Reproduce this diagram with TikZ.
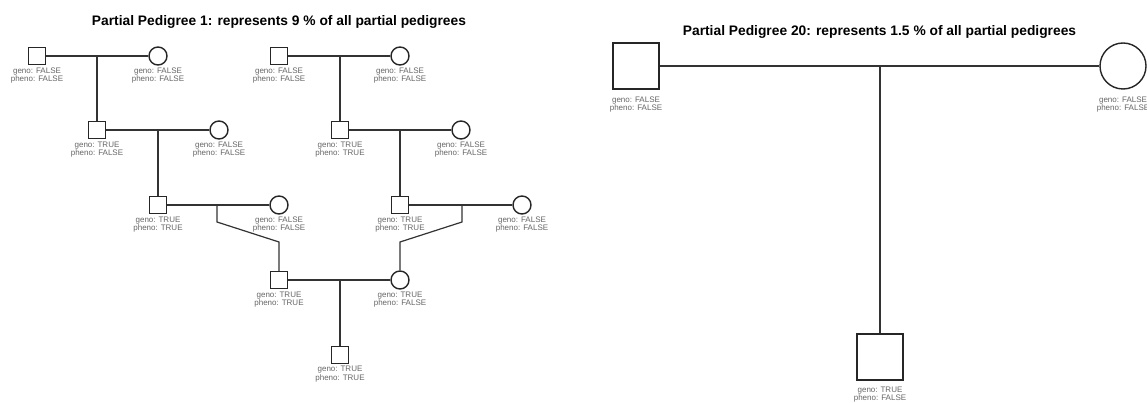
\documentclass[tikz,border=0pt]{standalone}
\usepackage{fontspec}
\setmainfont{Liberation Sans}
\begin{document}
\begin{tikzpicture}[x=1pt,y=-1pt,
  sq/.style={draw=black!85, line width=1.4pt, rectangle, minimum size=17pt, inner sep=0pt},
  ci/.style={draw=black!85, line width=1.4pt, circle, minimum size=18pt, inner sep=0pt},
  bsq/.style={draw=black!85, line width=1.4pt, rectangle, minimum size=46pt, inner sep=0pt},
  bci/.style={draw=black!85, line width=1.4pt, circle, minimum size=46pt, inner sep=0pt},
  lbl/.style={font=\fontsize{8}{8.3}\selectfont, text=black!60, align=center, inner sep=0pt},
  ttl/.style={font=\bfseries\fontsize{13.8}{15}\selectfont, text=black, inner sep=0pt},
  ln/.style={draw=black!80, line width=1.2pt}]
\useasboundingbox (0,0) rectangle (1147,403);
\fill[white] (0,0) rectangle (1147,403);

% ---------- left pedigree ----------
\node[ttl] (t1) at (279,22) {Partial Pedigree 1: represents 9 \% of all partial pedigrees};

% row 1
\node[sq] (s1) at (37,56) {};
\node[ci] (c1) at (158,56) {};
\node[sq] (s2) at (279,56) {};
\node[ci] (c2) at (400,56) {};
% row 2
\node[sq] (s3) at (97,130) {};
\node[ci] (c3) at (219,130) {};
\node[sq] (s4) at (340,130) {};
\node[ci] (c4) at (461,130) {};
% row 3
\node[sq] (s5) at (158,205) {};
\node[ci] (c5) at (279,205) {};
\node[sq] (s6) at (400,205) {};
\node[ci] (c6) at (522,205) {};
% row 4
\node[sq] (s7) at (279,280) {};
\node[ci] (c7) at (400,280) {};
% row 5
\node[sq] (s8) at (340,355) {};

% labels
\node[lbl] (ls1) at (37,75.5) {geno: FALSE\\pheno: FALSE};
\node[lbl] (lc1) at (158,75.5) {geno: FALSE\\pheno: FALSE};
\node[lbl] (ls2) at (279,75.5) {geno: FALSE\\pheno: FALSE};
\node[lbl] (lc2) at (400,75.5) {geno: FALSE\\pheno: FALSE};
\node[lbl] (ls3) at (97,149.5) {geno: TRUE\\pheno: FALSE};
\node[lbl] (lc3) at (219,149.5) {geno: FALSE\\pheno: FALSE};
\node[lbl] (ls4) at (340,149.5) {geno: TRUE\\pheno: TRUE};
\node[lbl] (lc4) at (461,149.5) {geno: FALSE\\pheno: FALSE};
\node[lbl] (ls5) at (158,224.5) {geno: TRUE\\pheno: TRUE};
\node[lbl] (lc5) at (279,224.5) {geno: FALSE\\pheno: FALSE};
\node[lbl] (ls6) at (400,224.5) {geno: TRUE\\pheno: TRUE};
\node[lbl] (lc6) at (522,224.5) {geno: FALSE\\pheno: FALSE};
\node[lbl] (ls7) at (279,299.5) {geno: TRUE\\pheno: TRUE};
\node[lbl] (lc7) at (400,299.5) {geno: TRUE\\pheno: FALSE};
\node[lbl] (ls8) at (340,374) {geno: TRUE\\pheno: TRUE};

% connectors
\coordinate (m1) at (97,56);
\coordinate (m2) at (340,56);
\coordinate (m3) at (158,130);
\coordinate (m4) at (400,130);
\coordinate (m5) at (217,205);
\coordinate (k5) at (217,222);
\coordinate (d5) at (279,242);
\coordinate (m6) at (462,205);
\coordinate (k6) at (462,222);
\coordinate (d6) at (400,242);
\coordinate (m7) at (340,280);

\draw[ln] (s1) -- (c1);
\draw[ln] (s2) -- (c2);
\draw[ln] (s3) -- (c3);
\draw[ln] (s4) -- (c4);
\draw[ln] (s5) -- (c5);
\draw[ln] (s6) -- (c6);
\draw[ln] (s7) -- (c7);
\draw[ln] (m1) -- (s3);
\draw[ln] (m2) -- (s4);
\draw[ln] (m3) -- (s5);
\draw[ln] (m4) -- (s6);
\draw[ln] (m5) -- (k5) -- (d5) -- (s7);
\draw[ln] (m6) -- (k6) -- (d6) -- (c7);
\draw[ln] (m7) -- (s8);

% ---------- right pedigree ----------
\node[ttl] (t2) at (879.5,32) {Partial Pedigree 20: represents 1.5 \% of all partial pedigrees};

\node[bsq] (r1) at (636,66) {};
\node[bci] (r2) at (1123,66) {};
\node[bsq] (r3) at (880,357) {};

\node[lbl] (lr1) at (636,104.5) {geno: FALSE\\pheno: FALSE};
\node[lbl] (lr2) at (1123,104.5) {geno: FALSE\\pheno: FALSE};
\node[lbl] (lr3) at (880,394.5) {geno: TRUE\\pheno: FALSE};

\coordinate (rm) at (880,66);
\draw[ln] (r1) -- (r2);
\draw[ln] (rm) -- (r3);
\end{tikzpicture}
\end{document}
